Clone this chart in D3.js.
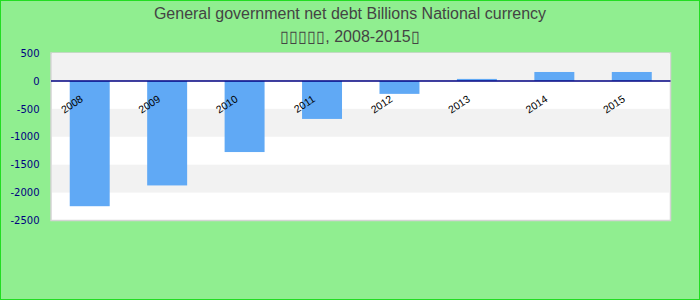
<!DOCTYPE html>
<html>
<head>
<meta charset="utf-8">
<style>
    body { margin: 0; }
    svg { display: block; }
</style>
</head>
<body>
<svg id="chart" width="700" height="300"></svg>
<script src="https://cdn.jsdelivr.net/npm/d3@7"></script>
<script>
    const years = ["2008", "2009", "2010", "2011", "2012", "2013", "2014", "2015"];
    const debt = [-2244, -1872, -1274, -681, -232, 36, 160, 160];
    const yTicks = [500, 0, -500, -1000, -1500, -2000, -2500];
    const titleLines = ["General government net debt Billions National currency",
        "▯▯▯▯▯, 2008-2015▯"];

    const W = 700, H = 300;
    const plot = {left: 51, right: 670.5, top: 53, bottom: 220.5};

    const svg = d3.select("#chart");

    // background + green frame
    svg.append("rect")
        .attr("x", 0.5).attr("y", 0.5)
        .attr("width", W - 1).attr("height", H - 1)
        .style("fill", "#90ee90")
        .style("stroke", "#22dd22")
        .style("stroke-width", 1);

    svg.selectAll("text.title")
        .data(titleLines)
        .enter().append("text")
        .attr("class", "title")
        .attr("x", W / 2)
        .attr("y", function (d, i) { return 19 + i * 22.5; })
        .attr("text-anchor", "middle")
        .style("font-family", "'Liberation Sans', Arial, sans-serif")
        .style("font-size", "16px")
        .style("fill", "#444")
        .text(function (d) { return d; });

    let x = d3.scaleBand()
        .domain(years)
        .range([plot.left, plot.right])
        .paddingInner(0.484)
        .paddingOuter(0.242);

    let y = d3.scaleLinear()
        .domain([-2500, 500])
        .range([plot.bottom, plot.top]);

    // plot area with alternating bands
    svg.append("rect")
        .attr("x", plot.left).attr("y", plot.top)
        .attr("width", plot.right - plot.left)
        .attr("height", plot.bottom - plot.top)
        .style("fill", "#fff")
        .style("stroke", "#d4d4d4")
        .style("stroke-width", 1.5);

    let bands = d3.pairs(yTicks).filter(function (d, i) { return i % 2 === 0; });
    svg.selectAll("rect.band")
        .data(bands)
        .enter().append("rect")
        .attr("class", "band")
        .attr("x", plot.left + 1)
        .attr("width", plot.right - plot.left - 2)
        .attr("y", function (d) { return y(d[0]); })
        .attr("height", function (d) { return y(d[1]) - y(d[0]); })
        .style("fill", "#f2f2f2");

    // bars
    svg.selectAll("rect.bar")
        .data(debt)
        .enter().append("rect")
        .attr("class", "bar")
        .attr("x", function (d, i) { return x(years[i]); })
        .attr("width", x.bandwidth())
        .attr("y", function (d) { return y(Math.max(0, d)); })
        .attr("height", function (d) { return Math.abs(y(d) - y(0)); })
        .style("fill", "#60a9f5");

    // zero line
    svg.append("line")
        .attr("x1", plot.left).attr("x2", plot.right)
        .attr("y1", y(0)).attr("y2", y(0))
        .style("stroke", "#000080")
        .style("stroke-width", 1.5);

    // y axis labels (plain hyphen, no thousands separator)
    let yAxis = d3.axisLeft(y)
        .tickValues(yTicks)
        .tickFormat(function (d) { return String(d); })
        .tickSize(0).tickPadding(0);
    let gy = svg.append("g")
        .attr("transform", "translate(39.5,0)")
        .call(yAxis);
    gy.select(".domain").remove();
    gy.selectAll("text")
        .style("font-family", "'DejaVu Sans', sans-serif")
        .style("font-size", "10px")
        .style("fill", "#000080");

    // x labels, rotated, hanging under the zero line
    svg.selectAll("text.xlab")
        .data(years)
        .enter().append("text")
        .attr("class", "xlab")
        .attr("text-anchor", "end")
        .attr("transform", function (d) {
            return "translate(" + (x(d) + x.bandwidth() / 2 - 6) + "," + (y(0) + 20) + ") rotate(-33)";
        })
        .style("font-family", "'Liberation Sans', Arial, sans-serif")
        .style("font-size", "10.5px")
        .style("fill", "#000")
        .text(function (d) { return d; });
</script>
</body>
</html>
